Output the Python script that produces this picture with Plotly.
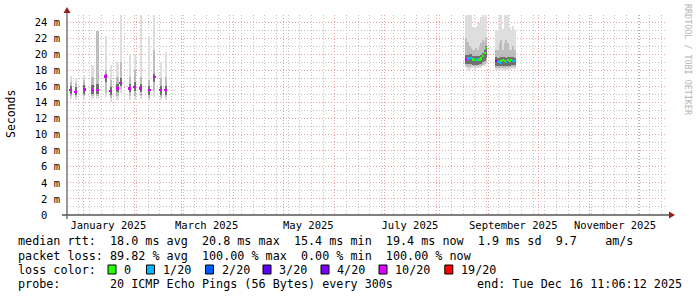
import plotly.graph_objects as go

# ---------------- data (values in milliseconds) ----------------
A_dates = ["2024-12-24 14:00", "2024-12-27 14:00", "2025-01-01 14:00", "2025-01-06 14:00",
           "2025-01-09 14:00", "2025-01-14 14:00", "2025-01-17 14:00", "2025-01-21 14:00",
           "2025-01-23 14:00", "2025-01-29 00:00", "2025-02-01 00:00", "2025-02-04 14:00",
           "2025-02-09 14:00", "2025-02-12 14:00", "2025-02-16 14:00", "2025-02-19 14:00"]
A_lo     = [14.4, 14.3, 14.4, 14.4, 14.4, 14.7, 14.1, 14.3, 15.2, 14.3, 14.3, 14.4, 14.2, 14.7, 14.3, 14.3]
A_mid_lo = [14.8, 14.7, 14.8, 14.8, 14.8, 15.2, 14.6, 14.8, 15.7, 14.8, 14.8, 14.8, 14.6, 15.4, 14.7, 14.7]
A_in_lo  = [15.1, 14.9, 15.1, 15.1, 15.1, 16.6, 14.9, 15.3, 16.0, 15.3, 15.4, 15.3, 15.0, 16.6, 15.0, 15.0]
A_in_hi  = [16.1, 15.9, 16.2, 16.2, 16.3, 17.6, 15.9, 16.3, 17.0, 16.3, 16.5, 16.3, 16.1, 17.6, 16.1, 16.1]
A_mid_hi = [16.6, 16.4, 16.8, 17.2, 22.9, 18.0, 16.8, 17.2, 19.0, 17.2, 18.0, 17.2, 16.8, 20.5, 17.0, 17.2]
A_hi     = [17.3, 17.1, 17.4, 18.7, 22.9, 22.3, 18.7, 19.1, 24.9, 20.0, 20.0, 24.9, 22.3, 24.9, 19.1, 20.3]
A_med    = [15.57, 15.36, 15.65, 15.57, 15.57, 17.3, 15.44, 15.78, 16.5, 15.78, 15.98, 15.78, 15.57, 17.2, 15.57, 15.57]
A_loss   = [10, 10, 10, 10, 10, 10, 10, 10, 10, 10, 10, 10, 10, 10, 10, 10]

B_dates = ["2025-08-19", "2025-08-20", "2025-08-21", "2025-08-22", "2025-08-23", "2025-08-24",
           "2025-08-25", "2025-08-26", "2025-08-27", "2025-08-28", "2025-08-29", "2025-08-30",
           "2025-08-31",
           "2025-09-06", "2025-09-07", "2025-09-08", "2025-09-09", "2025-09-10", "2025-09-11",
           "2025-09-12", "2025-09-13", "2025-09-14", "2025-09-15", "2025-09-16", "2025-09-17"]
B_lo     = [18.3, 18.1, 18.1, 18.3, 18.3, 18.2, 18.3, 18.3, 18.3, 18.3, 18.5, 18.6, 18.8,
            18.1, 18.0, 18.0, 18.1, 18.0, 18.1, 18.1, 18.0, 18.1, 18.2, 18.2, 18.2]
B_mid_lo = [18.5, 18.4, 18.4, 18.5, 18.5, 18.4, 18.5, 18.5, 18.5, 18.5, 18.7, 18.8, 19.0,
            18.3, 18.3, 18.3, 18.4, 18.3, 18.3, 18.4, 18.3, 18.4, 18.4, 18.4, 18.4]
B_in_lo  = [18.8, 18.8, 18.8, 18.8, 18.7, 18.7, 18.7, 18.7, 18.8, 18.8, 19.0, 19.2, 19.5,
            18.6, 18.6, 18.6, 18.6, 18.6, 18.6, 18.6, 18.6, 18.6, 18.7, 18.7, 18.7]
B_in_hi  = [19.9, 19.9, 20.0, 20.0, 19.8, 19.8, 19.8, 19.8, 19.8, 19.9, 20.2, 20.6, 21.1,
            19.7, 19.6, 19.6, 19.7, 19.7, 19.7, 19.6, 19.7, 19.7, 19.7, 19.7, 19.6]
B_mid_hi = [22.0, 21.5, 21.0, 20.8, 20.6, 20.6, 20.8, 20.6, 21.0, 21.4, 21.8, 21.6, 22.0,
            20.6, 20.6, 21.4, 21.8, 20.6, 21.4, 21.8, 21.4, 20.6, 20.6, 21.0, 20.6]
B_hi     = [24.9, 24.9, 24.9, 24.9, 23.4, 23.4, 23.4, 23.9, 23.9, 24.7, 24.9, 24.7, 24.9,
            23.0, 23.0, 24.9, 24.9, 23.2, 24.9, 24.9, 24.9, 23.4, 23.0, 23.5, 23.0]
B_med    = [19.4, 19.5, 19.6, 19.6, 19.4, 19.3, 19.4, 19.3, 19.4, 19.5, 19.8, 20.2, 20.8,
            19.2, 19.1, 19.0, 19.2, 19.3, 19.2, 19.1, 19.3, 19.2, 19.3, 19.2, 19.2]
B_loss   = [10, 1, 1, 1, 0, 0, 1, 0, 0, 0, 0, 0, 0,
            4, 1, 1, 0, 0, 0, 1, 0, 0, 0, 1, 1]

loss_levels = [0, 1, 2, 3, 4, 10, 19]
loss_labels = ["0", "1/20", "2/20", "3/20", "4/20", "10/20", "19/20"]
loss_colors = ["#26ff00", "#00b8ff", "#0059ff", "#5e00ff", "#7e00ff", "#dd00ff", "#ff0000"]

month_ticks = ["2025-01-01", "2025-02-01", "2025-03-01", "2025-04-01", "2025-05-01", "2025-06-01",
               "2025-07-01", "2025-08-01", "2025-09-01", "2025-10-01", "2025-11-01", "2025-12-01"]
month_labels = ["January 2025", "", "March 2025", "", "May 2025", "", "July 2025", "",
                "September 2025", "", "November 2025", ""]
y_ticks = [0, 2, 4, 6, 8, 10, 12, 14, 16, 18, 20, 22, 24]
y_labels = ["0\u00a0\u00a0"] + [f"{v} m" for v in y_ticks[1:]]

legend_rows = [
    "median rtt:  18.0 ms avg  20.8 ms max  15.4 ms min  19.4 ms now  1.9 ms sd  9.7    am/s",
    "packet loss: 89.82 % avg  100.00 % max  0.00 % min  100.00 % now",
    "loss color:",
    "probe:       20 ICMP Echo Pings (56 Bytes) every 300s",
]
end_text = "end: Tue Dec 16 11:06:12 2025"

# ---------------- geometry ----------------
W, H = 697, 297
L, R, T, B = 67, 30, 15, 82
PW, PH = W - L - R, H - T - B
DAY = 86400000.0


def px(x):
    return (x - L) / PW


def py(y):
    return (H - B - y) / PH


cmap = dict(zip(loss_levels, loss_colors))
fig = go.Figure()

SMOKE = [("#dedede", "lo", "hi"), ("#bdbdbd", "mid_lo", "mid_hi"), ("#707070", "in_lo", "in_hi")]
sections = [
    dict(dates=A_dates, lo=A_lo, mid_lo=A_mid_lo, in_lo=A_in_lo, in_hi=A_in_hi, mid_hi=A_mid_hi,
         hi=A_hi, med=A_med, loss=A_loss, w=1.4 * DAY, mw=1.8 * DAY),
    dict(dates=B_dates, lo=B_lo, mid_lo=B_mid_lo, in_lo=B_in_lo, in_hi=B_in_hi, mid_hi=B_mid_hi,
         hi=B_hi, med=B_med, loss=B_loss, w=1.0 * DAY, mw=1.0 * DAY),
]
for s in sections:
    for color, klo, khi in SMOKE:
        fig.add_trace(go.Bar(
            x=s["dates"], base=s[klo], y=[h - l for l, h in zip(s[klo], s[khi])],
            width=s["w"], marker=dict(color=color, line=dict(width=0)),
            hoverinfo="skip", showlegend=False))
    fig.add_trace(go.Bar(
        x=s["dates"], base=[m - 0.12 for m in s["med"]], y=[0.24] * len(s["med"]),
        width=s["mw"], marker=dict(color=[cmap[v] for v in s["loss"]], line=dict(width=0)),
        hoverinfo="skip", showlegend=False))

MONO = "DejaVu Sans Mono"
MAJ = "#ec9c9c"
MIN = "#c2c2c2"
DASH = "1px,2px"
fig.update_layout(
    width=W, height=H, margin=dict(l=L, r=R, t=T, b=B, pad=0),
    paper_bgcolor="white", plot_bgcolor="white", barmode="overlay", bargap=0,
    showlegend=False,
    font=dict(family=MONO, size=10.5, color="#000000"),
    xaxis=dict(
        type="date", range=["2024-12-22 05:17", "2025-12-17 05:17"],
        tickmode="array", tickvals=month_ticks, ticktext=month_labels,
        ticks="", ticklabelshift=25, ticklabelstandoff=2,
        showgrid=True, gridcolor=MAJ, griddash=DASH, gridwidth=1,
        minor=dict(dtick=7 * DAY, tick0="2024-12-29", showgrid=True,
                   gridcolor=MIN, griddash=DASH, gridwidth=1, ticks=""),
        showline=False, zeroline=False, fixedrange=True,
        tickfont=dict(family=MONO, size=10.5, color="#000000"),
    ),
    yaxis=dict(
        range=[0, 24.9], tickmode="array", tickvals=y_ticks, ticktext=y_labels,
        ticks="", ticklabelstandoff=6,
        showgrid=True, gridcolor=MAJ, griddash=DASH, gridwidth=1,
        minor=dict(dtick=1, showgrid=True, gridcolor=MIN, griddash=DASH, gridwidth=1, ticks=""),
        showline=False, zeroline=False, fixedrange=True,
        tickfont=dict(family=MONO, size=10.5, color="#000000"),
    ),
)

shapes = []
shapes.append(dict(type="line", xref="paper", yref="paper", x0=px(62), x1=px(671), y0=py(215), y1=py(215),
                   line=dict(color="#000000", width=1.2)))
shapes.append(dict(type="line", xref="paper", yref="paper", x0=px(67), x1=px(67), y0=py(219), y1=py(12),
                   line=dict(color="#555555", width=1.2)))
shapes.append(dict(type="path", xref="paper", yref="paper",
                   path=f"M {px(669)} {py(211.5)} L {px(675)} {py(215)} L {px(669)} {py(218.5)} Z",
                   fillcolor="#9c1a1a", line=dict(width=0)))
shapes.append(dict(type="path", xref="paper", yref="paper",
                   path=f"M {px(63.5)} {py(13)} L {px(67)} {py(7)} L {px(70.5)} {py(13)} Z",
                   fillcolor="#9c1a1a", line=dict(width=0)))

annotations = []
annotations.append(dict(text="Seconds", xref="paper", yref="paper", x=px(11), y=py(114),
                        textangle=-90, showarrow=False, xanchor="center", yanchor="middle",
                        font=dict(family=MONO, size=11.5, color="#000000")))
annotations.append(dict(text="RRDTOOL / TOBI OETIKER", xref="paper", yref="paper", x=px(688), y=py(60),
                        textangle=90, showarrow=False, xanchor="center", yanchor="middle",
                        font=dict(family=MONO, size=8.4, color="#b4b4b4")))

row_y = [241, 255.5, 269.5, 283.5]
LEG = dict(family=MONO, size=11.75, color="#000000")
for txt, yy in zip(legend_rows, row_y):
    annotations.append(dict(text=txt.replace(" ", "\u00a0"), xref="paper", yref="paper",
                            x=px(16), y=py(yy), xanchor="left", yanchor="middle",
                            showarrow=False, font=LEG))
annotations.append(dict(text=end_text.replace(" ", "\u00a0"), xref="paper", yref="paper",
                        x=px(684), y=py(row_y[3]), xanchor="right", yanchor="middle",
                        showarrow=False, font=LEG))

box_x = [108, 146.5, 205.5, 263, 321, 379, 444.8]
for bx, lab, col in zip(box_x, loss_labels, loss_colors):
    shapes.append(dict(type="rect", xref="paper", yref="paper",
                       x0=px(bx), x1=px(bx + 8), y0=py(274), y1=py(265),
                       fillcolor=col, line=dict(color="#000000", width=1)))
    annotations.append(dict(text=lab, xref="paper", yref="paper",
                            x=px(bx + 14), y=py(row_y[2]), xanchor="left", yanchor="middle",
                            showarrow=False, font=LEG))

fig.update_layout(shapes=shapes, annotations=annotations)
fig.write_html("out.html")
